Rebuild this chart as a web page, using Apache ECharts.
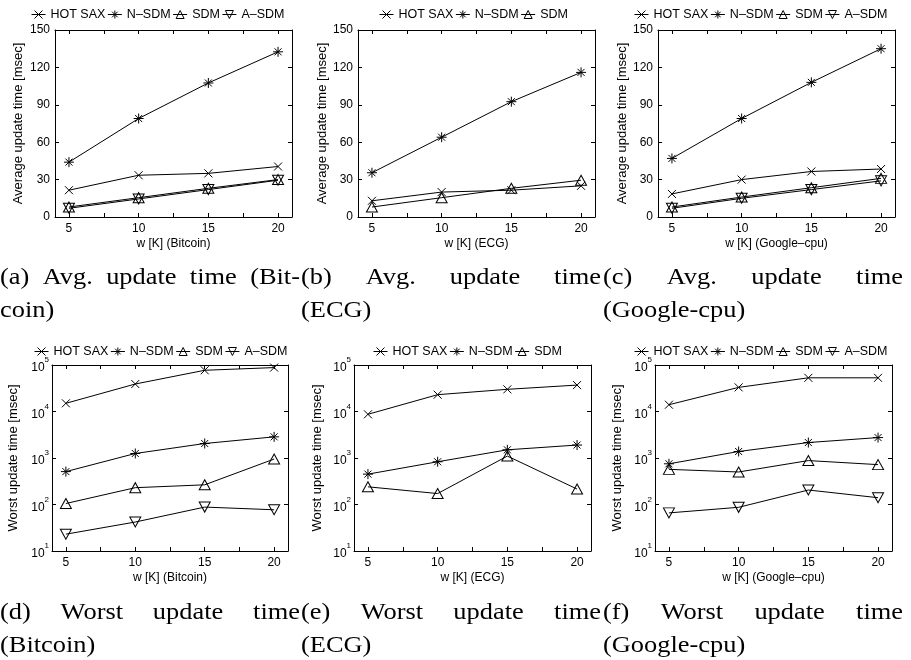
<!DOCTYPE html>
<html>
<head>
<meta charset="utf-8">
<script src="https://cdn.jsdelivr.net/npm/echarts@6/dist/echarts.min.js"></script>
<style>
  html, body { margin: 0; padding: 0; background: #fff; }
  #chart { width: 911px; height: 660px; }
</style>
</head>
<body>
<div id="chart"></div>
<script>
// window size w [K]
const w = [5, 10, 15, 20];
const xLabelTicks = [5, 10, 15, 20];
const xTicks = [5, 7.5, 10, 12.5, 15, 17.5, 20];
const avgTicks = [0, 30, 60, 90, 120, 150];

// (a) average update time, Bitcoin [msec]
const avgBitcoinHotSax = [21.5, 33.5, 35, 40.5];
const avgBitcoinNSdm = [44, 79, 107.5, 132.5];
const avgBitcoinSdm = [8, 15.5, 23, 30];
const avgBitcoinASdm = [7, 14.5, 22, 29.5];

// (b) average update time, ECG
const avgEcgHotSax = [13, 20, 21.5, 25];
const avgEcgNSdm = [35.5, 64, 92.5, 116];
const avgEcgSdm = [8, 15.5, 23, 29.5];

// (c) average update time, Google-cpu
const avgGoogleHotSax = [18.5, 30, 36.5, 38.5];
const avgGoogleNSdm = [47, 79, 108, 135];
const avgGoogleSdm = [8, 16, 23.5, 31];
const avgGoogleASdm = [7, 15, 22, 29];

// (d) worst update time, Bitcoin
const worstBitcoinHotSax = [15000, 39000, 77000, 88000];
const worstBitcoinNSdm = [510, 1250, 2050, 2850];
const worstBitcoinSdm = [105, 230, 265, 950];
const worstBitcoinASdm = [23, 42, 88, 77];

// (e) worst update time, ECG
const worstEcgHotSax = [8700, 23000, 30000, 37000];
const worstEcgNSdm = [450, 830, 1500, 1900];
const worstEcgSdm = [240, 172, 1100, 215];

// (f) worst update time, Google-cpu
const worstGoogleHotSax = [14000, 33000, 53000, 53000];
const worstGoogleNSdm = [750, 1380, 2150, 2750];
const worstGoogleSdm = [570, 500, 880, 720];
const worstGoogleASdm = [66, 87, 205, 140];

const FONT = '"Liberation Sans", Arial, sans-serif';
const SERIF = '"Liberation Serif", "Times New Roman", serif';

// MATLAB-like markers, stroked only
const markers = {
  'HOT SAX': { symbol: 'path://M0,0L10,10M0,10L10,0', size: 8 },
  'N–SDM': { symbol: 'path://M0,5L10,5M5,0L5,10M1.5,1.5L8.5,8.5M8.5,1.5L1.5,8.5', size: 10 },
  'SDM': { symbol: 'path://M5,0L10,8.66L0,8.66Z', size: [11, 10] },
  'A–SDM': { symbol: 'path://M0,0L10,0L5,8.66Z', size: [11, 10] }
};

const panels = [
  { grid: { left: 55, top: 30, width: 237, height: 187 }, log: false, yNameGap: 30,
    xName: 'w [K] (Bitcoin)', yName: 'Average update time [msec]',
    series: [['HOT SAX', avgBitcoinHotSax], ['N–SDM', avgBitcoinNSdm], ['SDM', avgBitcoinSdm], ['A–SDM', avgBitcoinASdm]],
    legend: { left: 26, top: 3 }, capX: 0, capY: 278,
    caption: ['(a) Avg. update time (Bit-', 'coin)'] },
  { grid: { left: 358, top: 30, width: 237, height: 187 }, log: false, yNameGap: 26,
    xName: 'w [K] (ECG)', yName: 'Average update time [msec]',
    series: [['HOT SAX', avgEcgHotSax], ['N–SDM', avgEcgNSdm], ['SDM', avgEcgSdm]],
    legend: { left: 374, top: 3 }, capX: 301, capY: 278,
    caption: ['(b) Avg. update time', '(ECG)'] },
  { grid: { left: 658, top: 30, width: 237, height: 187 }, log: false, yNameGap: 26,
    xName: 'w [K] (Google–cpu)', yName: 'Average update time [msec]',
    series: [['HOT SAX', avgGoogleHotSax], ['N–SDM', avgGoogleNSdm], ['SDM', avgGoogleSdm], ['A–SDM', avgGoogleASdm]],
    legend: { left: 629, top: 3 }, capX: 603, capY: 278,
    caption: ['(c) Avg. update time', '(Google-cpu)'] },
  { grid: { left: 52, top: 365, width: 236, height: 186 }, log: true, yNameGap: 32,
    xName: 'w [K] (Bitcoin)', yName: 'Worst update time [msec]',
    series: [['HOT SAX', worstBitcoinHotSax], ['N–SDM', worstBitcoinNSdm], ['SDM', worstBitcoinSdm], ['A–SDM', worstBitcoinASdm]],
    legend: { left: 29, top: 340 }, capX: 0, capY: 613,
    caption: ['(d) Worst update time', '(Bitcoin)'] },
  { grid: { left: 354, top: 365, width: 237, height: 186 }, log: true, yNameGap: 30,
    xName: 'w [K] (ECG)', yName: 'Worst update time [msec]',
    series: [['HOT SAX', worstEcgHotSax], ['N–SDM', worstEcgNSdm], ['SDM', worstEcgSdm]],
    legend: { left: 368, top: 340 }, capX: 301, capY: 613,
    caption: ['(e) Worst update time', '(ECG)'] },
  { grid: { left: 655, top: 365, width: 237, height: 186 }, log: true, yNameGap: 31,
    xName: 'w [K] (Google–cpu)', yName: 'Worst update time [msec]',
    series: [['HOT SAX', worstGoogleHotSax], ['N–SDM', worstGoogleNSdm], ['SDM', worstGoogleSdm], ['A–SDM', worstGoogleASdm]],
    legend: { left: 629, top: 340 }, capX: 603, capY: 613,
    caption: ['(f) Worst update time', '(Google-cpu)'] }
];

const axisLine = { show: true, onZero: false, lineStyle: { color: '#000', width: 1 } };
const tick = { show: true, inside: true, length: 4, lineStyle: { color: '#000', width: 1 } };

const grids = [], xAxes = [], yAxes = [], series = [], legends = [];

panels.forEach((p, i) => {
  grids.push(p.grid);
  // bottom and top x axes
  xAxes.push({
    type: 'value', gridIndex: i, position: 'bottom', min: 4, max: 21,
    axisLine, splitLine: { show: false },
    axisTick: Object.assign({ customValues: xTicks }, tick),
    axisLabel: { customValues: xLabelTicks, margin: 6, color: '#000', fontSize: 12, fontFamily: FONT },
    name: p.xName, nameLocation: 'middle', nameGap: 21,
    nameTextStyle: { color: '#000', fontSize: 12, fontFamily: FONT }
  });
  xAxes.push({
    type: 'value', gridIndex: i, position: 'top', min: 4, max: 21,
    axisLine, splitLine: { show: false },
    axisTick: Object.assign({ customValues: xTicks }, tick),
    axisLabel: { show: false }
  });
  const yName = {
    name: p.yName, nameLocation: 'middle', nameGap: p.yNameGap,
    nameTextStyle: { color: '#000', fontSize: 13, fontFamily: FONT }
  };
  if (p.log) {
    const yl = {
      type: 'log', logBase: 10, min: 10, max: 100000, splitNumber: 4,
      axisLine, splitLine: { show: false }, axisTick: tick
    };
    yAxes.push(Object.assign({
      gridIndex: i, position: 'left',
      axisLabel: {
        margin: 3, color: '#000', fontFamily: FONT,
        formatter: v => '{b|10}{s|' + Math.round(Math.log10(v)) + '}',
        rich: {
          b: { fontSize: 12, fontFamily: FONT, color: '#000', lineHeight: 18, verticalAlign: 'bottom' },
          s: { fontSize: 8, fontFamily: FONT, color: '#000', lineHeight: 10, verticalAlign: 'top' }
        }
      }
    }, yl, yName));
    yAxes.push(Object.assign({ gridIndex: i, position: 'right', axisLabel: { show: false } }, yl));
  } else {
    const ya = {
      type: 'value', min: avgTicks[0], max: avgTicks[avgTicks.length - 1], interval: 30,
      axisLine, splitLine: { show: false }, axisTick: tick
    };
    yAxes.push(Object.assign({
      gridIndex: i, position: 'left',
      axisLabel: { margin: 5, color: '#000', fontSize: 12, fontFamily: FONT }
    }, ya, yName));
    yAxes.push(Object.assign({ gridIndex: i, position: 'right', axisLabel: { show: false } }, ya));
  }

  p.series.forEach(([name, vals]) => {
    const m = markers[name];
    series.push({
      type: 'line', name,
      xAxisIndex: 2 * i, yAxisIndex: 2 * i,
      data: vals.map((v, k) => [w[k], v]),
      symbol: m.symbol, symbolSize: m.size,
      showAllSymbol: true,
      itemStyle: { color: 'none', borderColor: '#000', borderWidth: 1 },
      lineStyle: { color: '#000', width: 1 },
      emphasis: { disabled: true },
      animation: false
    });
  });

  legends.push({
    data: p.series.map(s => s[0]),
    left: p.legend.left, top: p.legend.top, width: 300,
    orient: 'horizontal', itemWidth: 14, itemHeight: 10, itemGap: 2,
    selectedMode: false,
    itemStyle: { color: 'none', borderColor: '#000', borderWidth: 1 },
    lineStyle: { color: '#000', width: 1 },
    textStyle: { color: '#000', fontSize: 12.5, fontFamily: FONT }
  });
});

// captions, first line justified to the column width
const CAP_SIZE = 24;
const CAP_SCALE = 1.1;
const CAP_LINE = 33;
const CAP_WIDTH = 300;
const ctx = document.createElement('canvas').getContext('2d');
ctx.font = CAP_SIZE + 'px ' + SERIF;

function capText(text, x, y) {
  return {
    type: 'text', x, y, scaleX: CAP_SCALE, silent: true,
    style: { text, fontSize: CAP_SIZE, fontFamily: SERIF, fill: '#000', verticalAlign: 'middle' }
  };
}

const graphic = [];
panels.forEach(p => {
  p.caption.forEach((line, li) => {
    const y = p.capY + li * CAP_LINE;
    const words = line.split(' ');
    if (li === 0 && words.length > 1) {
      const widths = words.map(t => ctx.measureText(t).width * CAP_SCALE);
      const total = widths.reduce((a, b) => a + b, 0);
      const gap = (CAP_WIDTH - total) / (words.length - 1);
      let x = p.capX;
      words.forEach((t, k) => {
        graphic.push(capText(t, x, y));
        x += widths[k] + gap;
      });
    } else {
      graphic.push(capText(line, p.capX, y));
    }
  });
});

const chart = echarts.init(document.getElementById('chart'));
chart.setOption({
  backgroundColor: '#fff',
  animation: false,
  grid: grids,
  xAxis: xAxes,
  yAxis: yAxes,
  legend: legends,
  series,
  graphic
});
</script>
</body>
</html>
